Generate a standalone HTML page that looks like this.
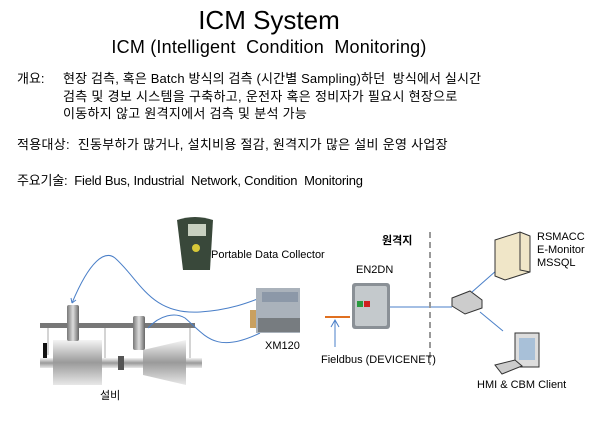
<!DOCTYPE html>
<html><head><meta charset="utf-8"><style>
body{margin:0;width:600px;height:430px;background:#fff;position:relative;overflow:hidden;font-family:"Liberation Sans","Noto Sans CJK KR",sans-serif;color:#000}
.t{position:absolute;white-space:nowrap;line-height:1}
</style></head><body>
<div class="t" style="left:0;width:538px;text-align:center;top:7px;font-size:26px">ICM System</div>
<div class="t" style="left:0;width:538px;text-align:center;top:38px;font-size:18px;letter-spacing:0.2px">ICM (Intelligent&nbsp; Condition&nbsp; Monitoring)</div>
<div class="t" style="left:17px;top:72px;font-size:13px">개요:</div>
<div class="t" style="left:63px;top:72px;font-size:13px;letter-spacing:0.15px">현장 검측, 혹은 Batch 방식의 검측 (시간별 Sampling)하던&nbsp; 방식에서 실시간</div>
<div class="t" style="left:63px;top:90px;font-size:13px;letter-spacing:0.3px">검측 및 경보 시스템을 구축하고, 운전자 혹은 정비자가 필요시 현장으로</div>
<div class="t" style="left:63px;top:107px;font-size:13px;letter-spacing:0.3px">이동하지 않고 원격지에서 검측 및 분석 가능</div>
<div class="t" style="left:17px;top:138px;font-size:13px;letter-spacing:0.3px">적용대상:&nbsp; 진동부하가 많거나, 설치비용 절감, 원격지가 많은 설비 운영 사업장</div>
<div class="t" style="left:17px;top:174px;font-size:13px;letter-spacing:-0.2px">주요기술:&nbsp; Field Bus, Industrial&nbsp; Network, Condition&nbsp; Monitoring</div>

<svg width="600" height="430" style="position:absolute;left:0;top:0" xmlns="http://www.w3.org/2000/svg">
<defs>
<linearGradient id="g1" x1="0" y1="0" x2="0" y2="1"><stop offset="0" stop-color="#f4f4f4"/><stop offset="0.5" stop-color="#9a9a9a"/><stop offset="1" stop-color="#e8e8e8"/></linearGradient>
<linearGradient id="g2" x1="0" y1="0" x2="1" y2="0"><stop offset="0" stop-color="#777"/><stop offset="0.5" stop-color="#ddd"/><stop offset="1" stop-color="#666"/></linearGradient>
</defs>
<rect x="40" y="323" width="155" height="5" fill="#777"/>
<rect x="43" y="343" width="4" height="15" fill="#111"/>
<line x1="48" y1="328" x2="48" y2="355" stroke="#aaa"/>
<line x1="105" y1="328" x2="105" y2="358" stroke="#aaa"/>
<line x1="190" y1="328" x2="190" y2="358" stroke="#aaa"/>
<rect x="40" y="358" width="162" height="10" fill="url(#g1)"/>
<rect x="53" y="340" width="49" height="45" fill="url(#g1)"/>
<path d="M143 350 L186 340 L186 385 L143 375 Z" fill="url(#g1)"/>
<rect x="118" y="356" width="6" height="14" fill="#555"/>
<rect x="67" y="305" width="12" height="36" rx="2" fill="url(#g2)"/>
<rect x="133" y="316" width="12" height="34" rx="2" fill="url(#g2)"/>
<path d="M72 303 C 90 260, 105 250, 115 258 C 140 280, 150 315, 200 312 C 230 310, 250 302, 260 298" fill="none" stroke="#4a7fc8" stroke-width="1"/>
<path d="M72 303 l-1 -5 M72 303 l4 -3" stroke="#4a7fc8" fill="none"/>
<path d="M148 328 C 160 315, 175 312, 185 318 C 205 335, 215 355, 260 333" fill="none" stroke="#4a7fc8" stroke-width="1"/>
<path d="M177 220 Q195 214 213 220 L210 270 L183 270 Z" fill="#39483a"/>
<rect x="188" y="224" width="18" height="12" fill="#c8d0c0"/>
<circle cx="196" cy="248" r="4" fill="#d8c838"/>
<rect x="250" y="310" width="8" height="18" fill="#c9a060"/>
<rect x="256" y="288" width="44" height="45" fill="#aab2bb"/>
<rect x="262" y="292" width="36" height="10" fill="#8c98a8"/>
<rect x="258" y="318" width="42" height="14" fill="#777c80"/>
<line x1="325" y1="317" x2="350" y2="317" stroke="#e07020" stroke-width="2"/>
<line x1="335" y1="347" x2="335" y2="321" stroke="#4a7fc8"/>
<path d="M331 327 L335 320 L339 327" fill="none" stroke="#4a7fc8"/>
<rect x="352" y="283" width="38" height="46" rx="3" fill="#8a9096"/>
<rect x="355" y="286" width="32" height="40" rx="2" fill="#c4c9cc"/>
<rect x="357" y="301" width="6" height="6" fill="#2a9a40"/><rect x="364" y="301" width="6" height="6" fill="#d02020"/>
<line x1="390" y1="307" x2="452" y2="307" stroke="#4a7fc8"/>
<line x1="430" y1="232" x2="430" y2="365" stroke="#999" stroke-width="2" stroke-dasharray="6,4"/>
<path d="M452 298 L470 291 L482 300 L482 308 L465 314 L452 306 Z" fill="#ccc" stroke="#333"/>
<line x1="472" y1="292" x2="497" y2="270" stroke="#4a7fc8"/>
<line x1="480" y1="312" x2="503" y2="331" stroke="#4a7fc8"/>
<path d="M495 240 L520 232 L530 236 L530 272 L505 280 L495 276 Z" fill="#f0e6c8" stroke="#333"/>
<path d="M520 232 L520 270 L530 272" fill="none" stroke="#333"/>
<rect x="515" y="333" width="24" height="34" fill="#ddd" stroke="#333"/>
<rect x="519" y="338" width="16" height="22" fill="#a8c0d8"/>
<path d="M495 365 L515 360 L522 366 L502 374 Z" fill="#ccc" stroke="#333"/>
</svg>
<div class="t" style="left:211px;top:250px;font-size:11px">Portable Data Collector</div>
<div class="t" style="left:265px;top:341px;font-size:11px">XM120</div>
<div class="t" style="left:321px;top:355px;font-size:11px">Fieldbus (DEVICENET)</div>
<div class="t" style="left:356px;top:265px;font-size:11px">EN2DN</div>
<div class="t" style="left:382px;top:236px;font-size:11px;font-weight:bold">원격지</div>
<div class="t" style="left:537px;top:231px;font-size:11px;line-height:13px">RSMACC<br>E-Monitor<br>MSSQL</div>
<div class="t" style="left:477px;top:380px;font-size:11px">HMI &amp; CBM Client</div>
<div class="t" style="left:100px;top:391px;font-size:11px">설비</div>
</body></html>
